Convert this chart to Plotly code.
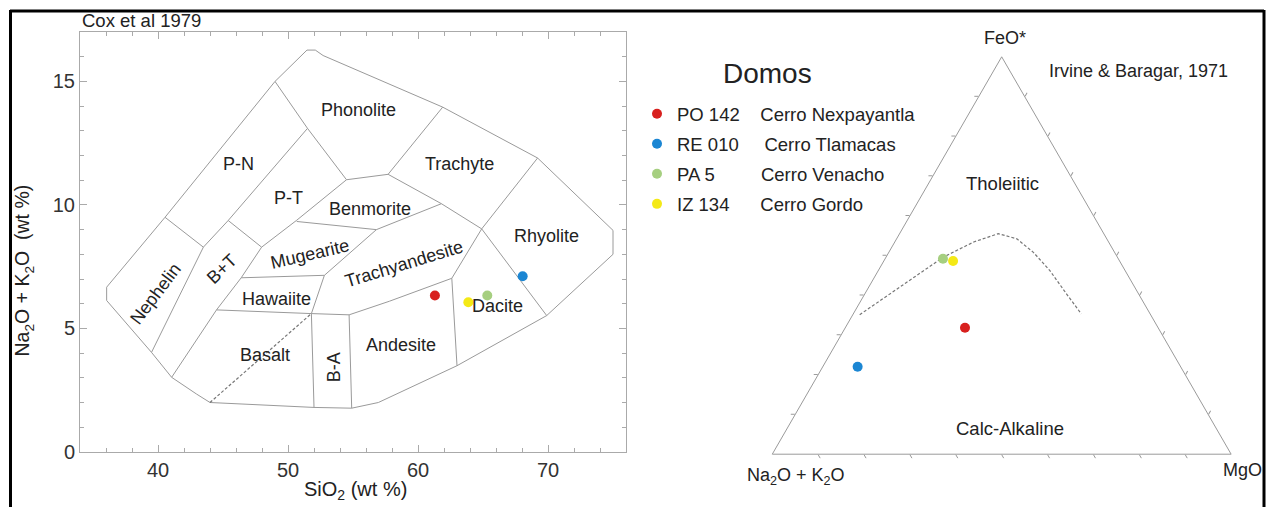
import plotly.graph_objects as go

W, H = 1266, 507
FIG_H = 519
FONT = "Liberation Sans, Arial, sans-serif"
TXT = "#222222"
GRAY = "#9a9a9a"

# ---------------- data ----------------
samples = ["PO 142", "RE 010", "PA 5", "IZ 134"]
domes = ["Cerro Nexpayantla", "Cerro Tlamacas", "Cerro Venacho", "Cerro Gordo"]
name_gap = [4, 5, 9, 6]
colors = ["#d8201e", "#1b86d3", "#a6cf80", "#f4e916"]

# TAS (Cox et al 1979)
sio2 = [61.3, 68.05, 65.33, 63.87]
alkali = [6.33, 7.11, 6.33, 6.06]

# AFM (Irvine & Baragar 1971)
afm_feo = [31.8, 22.0, 49.2, 48.6]
afm_alk = [42.1, 70.4, 38.2, 36.3]
afm_mgo = [26.1, 7.6, 12.6, 15.1]

# Tholeiitic / calc-alkaline divide
div_feo = [35.1, 49.6, 53.4, 55.5, 54.2, 50.8, 46.2, 40.3, 35.3]
div_mgo = [1.5, 12.5, 17.2, 21.5, 26.2, 31.5, 37.4, 44.0, 49.7]
div_alk = [100 - a - c for a, c in zip(div_feo, div_mgo)]

# TAS field boundaries (SiO2, Na2O+K2O)
outer_x = [36.05, 39.5, 41.05, 41.8, 42.97, 44.0, 52.0, 54.9, 56.95, 63.0, 69.9, 75.0, 75.0,
           69.2, 61.9, 52.7, 52.1, 51.46, 49.0, 40.54, 36.05, 36.05]
outer_y = [6.13, 4.03, 3.02, 2.74, 2.34, 2.0, 1.8, 1.77, 2.0, 3.49, 5.52, 8.0, 8.97,
           11.9, 13.96, 16.05, 16.27, 16.27, 15.0, 9.5, 6.67, 6.13]
inner_lines = [
    ([40.54, 43.49], [9.5, 8.29]),
    ([43.49, 39.5], [8.29, 4.03]),
    ([43.49, 45.4, 51.5, 49.0], [8.29, 9.37, 13.1, 15.0]),
    ([45.4, 47.97], [9.37, 8.29]),
    ([47.97, 46.4, 44.5, 41.05], [8.29, 7.05, 5.75, 3.02]),
    ([51.5, 54.5], [13.1, 11.02]),
    ([47.97, 50.67, 54.5], [8.29, 9.38, 11.02]),
    ([54.5, 57.7], [11.02, 11.24]),
    ([57.7, 61.9], [11.24, 13.96]),
    ([57.7, 61.8, 64.9], [11.24, 10.05, 9.03]),
    ([61.8, 56.8], [10.05, 9.0]),
    ([50.67, 56.8], [9.33, 9.0]),
    ([56.8, 52.8], [9.0, 7.15]),
    ([46.4, 52.8], [7.05, 7.15]),
    ([52.8, 51.8], [7.15, 5.6]),
    ([44.5, 51.8], [5.75, 5.6]),
    ([51.8, 52.0], [5.6, 1.8]),
    ([51.8, 54.7], [5.6, 5.55]),
    ([54.7, 54.9], [5.55, 1.77]),
    ([54.7, 57.8, 62.6], [5.55, 6.1, 7.03]),
    ([62.6, 63.0], [7.03, 3.49]),
    ([62.6, 64.9], [7.03, 9.03]),
    ([64.9, 69.9], [9.03, 5.52]),
    ([64.9, 69.2], [9.03, 11.9]),
]
dashed_x = [44.0, 51.8]
dashed_y = [2.0, 5.6]

field_names = ["Phonolite", "Trachyte", "Rhyolite", "P-N", "P-T", "Benmorite", "Mugearite",
               "Trachyandesite", "Hawaiite", "Nephelin", "B+T", "Basalt", "B-A", "Andesite", "Dacite"]
field_x = [55.4, 63.2, 69.9, 46.2, 50.0, 56.3, 51.7, 58.9, 49.1, 39.8, 44.9, 48.2, 53.6, 58.7, 66.1]
field_y = [13.83, 11.67, 8.76, 11.67, 10.3, 9.82, 8.0, 7.6, 6.19, 6.4, 7.41, 3.92, 3.42, 4.34, 5.92]
field_rot = [0, 0, 0, 0, 0, 0, -13, -17, 0, -53, -44, 0, -90, 0, 0]

# ---------------- figure ----------------
fig = go.Figure()

bx, by = list(outer_x) + [None], list(outer_y) + [None]
for xs, ys in inner_lines:
    bx += xs + [None]
    by += ys + [None]
fig.add_trace(go.Scatter(x=bx, y=by, mode="lines", line=dict(color=GRAY, width=1),
                         showlegend=False, hoverinfo="skip"))
fig.add_trace(go.Scatter(x=dashed_x, y=dashed_y, mode="lines",
                         line=dict(color="#777777", width=1.2, dash="3px,2px"),
                         showlegend=False, hoverinfo="skip"))

fig.add_trace(go.Scatterternary(a=div_feo, b=div_alk, c=div_mgo, mode="lines",
                                line=dict(color="#777777", width=1.2, dash="3px,2px"),
                                showlegend=False, hoverinfo="skip"))

for i in range(len(samples)):
    nm = samples[i] + "\u00a0" * name_gap[i] + domes[i]
    fig.add_trace(go.Scatter(x=[sio2[i]], y=[alkali[i]], mode="markers", name=nm,
                             legendgroup=samples[i],
                             marker=dict(color=colors[i], size=10)))
    fig.add_trace(go.Scatterternary(a=[afm_feo[i]], b=[afm_alk[i]], c=[afm_mgo[i]],
                                    mode="markers", name=nm, legendgroup=samples[i],
                                    showlegend=False,
                                    marker=dict(color=colors[i], size=10)))

ann = []
for n, x, y, r in zip(field_names, field_x, field_y, field_rot):
    ann.append(dict(x=x, y=y, xref="x", yref="y", text=n, textangle=r, showarrow=False,
                    font=dict(size=18, color=TXT)))

def px(xp):
    return xp / W

def py(yp):
    return 1 - yp / H

paper_text = [
    ("Cox et al 1979", 80, 20, "left", 18.5, 0),
    ("Na<sub>2</sub>O + K<sub>2</sub>O\u00a0\u00a0(wt %)", 24, 270, "center", 19.5, -90),
    ("SiO<sub>2</sub> (wt %)", 355, 490, "center", 20, 0),
    ("Domos", 767, 73, "center", 28, 0),
    ("FeO*", 1005, 38, "center", 18, 0),
    ("Irvine & Baragar, 1971", 1047, 71, "left", 18, 0),
    ("Tholeiitic", 1002, 183, "center", 18.5, 0),
    ("Calc-Alkaline", 1010, 428, "center", 18.5, 0),
    ("Na<sub>2</sub>O + K<sub>2</sub>O", 796, 476, "center", 18, 0),
    ("MgO", 1242, 469, "center", 18, 0),
]
for t, x, y, al, s, rot in paper_text:
    ann.append(dict(x=px(x), y=py(y), xref="paper", yref="paper", text=t, showarrow=False,
                    xanchor=al, yanchor="middle", font=dict(size=s, color=TXT), textangle=rot))

shapes = [
    dict(type="line", xref="paper", yref="paper", x0=px(10), x1=px(1264), y0=py(11), y1=py(11),
         line=dict(color="black", width=3)),
    dict(type="line", xref="paper", yref="paper", x0=px(10.5), x1=px(10.5), y0=py(10), y1=0,
         line=dict(color="black", width=3)),
    dict(type="line", xref="paper", yref="paper", x0=px(1264), x1=px(1264), y0=py(10), y1=0,
         line=dict(color="black", width=3)),
]

tern_axis = dict(showgrid=False, showticklabels=False, linecolor=GRAY, linewidth=1,
                 ticks="outside", ticklen=4, tickcolor=GRAY, tickmode="array",
                 tickvals=[10, 20, 30, 40, 50, 60, 70, 80, 90], title=dict(text=""))

fig.update_layout(
    width=W, height=FIG_H,
    margin=dict(l=0, r=0, t=0, b=0),
    paper_bgcolor="white", plot_bgcolor="white",
    font=dict(family=FONT, color=TXT),
    xaxis=dict(domain=[px(80), px(626)], range=[34, 76], showgrid=False, zeroline=False,
               showline=True, linecolor="#aaaaaa", mirror="ticks", ticks="inside",
               ticklen=7, tickcolor="#aaaaaa", dtick=10, tick0=0,
               minor=dict(dtick=2, ticks="inside", ticklen=4, tickcolor="#aaaaaa"),
               tickfont=dict(size=20, color="#333333")),
    yaxis=dict(domain=[py(451), py(32)], range=[0, 17], showgrid=False, zeroline=False,
               showline=True, linecolor="#aaaaaa", mirror="ticks", ticks="inside",
               ticklen=7, tickcolor="#aaaaaa", dtick=5, tick0=0,
               minor=dict(dtick=1, ticks="inside", ticklen=4, tickcolor="#aaaaaa"),
               tickfont=dict(size=20, color="#333333")),
    ternary=dict(domain=dict(x=[px(769.7), px(1233.7)], y=[py(453.3), py(56.7)]),
                 sum=100, bgcolor="white",
                 aaxis=tern_axis, baxis=tern_axis, caxis=tern_axis),
    legend=dict(x=px(637), y=py(95), xanchor="left", yanchor="top",
                bgcolor="rgba(0,0,0,0)", traceorder="grouped", tracegroupgap=3,
                font=dict(size=18.5, color=TXT)),
    annotations=ann, shapes=shapes,
)

post = ("var gd=document.getElementById('{plot_id}');"
        "gd.style.position='absolute';gd.style.left='0px';gd.style.top='0px';"
        "document.body.style.margin='0px';document.body.style.padding='0px';"
        "document.body.style.overflow='hidden';"
        "document.documentElement.style.overflow='hidden';")

fig.write_html("out.html", config={"displayModeBar": False}, post_script=post)
